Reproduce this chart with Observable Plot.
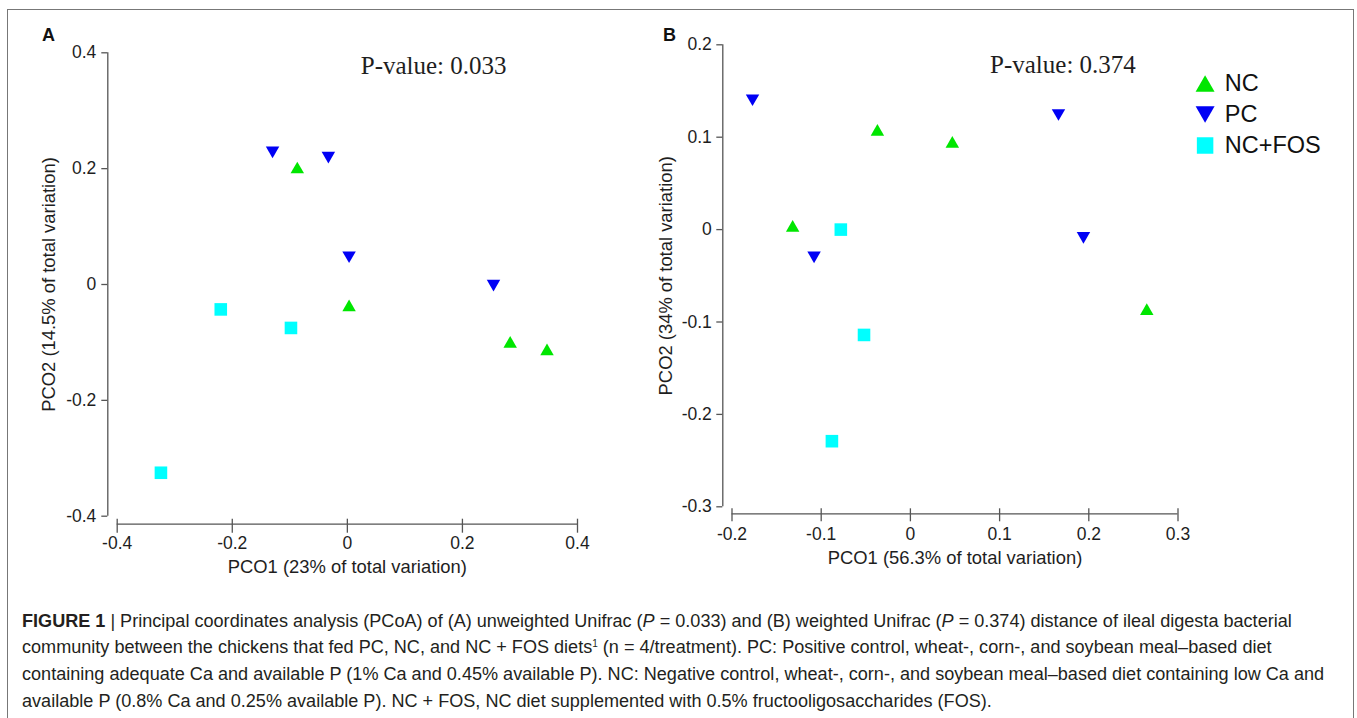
<!DOCTYPE html>
<html>
<head>
<meta charset="utf-8">
<script src="https://cdn.jsdelivr.net/npm/d3@7"></script>
<script src="https://cdn.jsdelivr.net/npm/@observablehq/plot@0.6"></script>
<style>
html, body { margin: 0; padding: 0; background: #fff; width: 1357px; height: 718px; overflow: hidden;
  font-family: "Liberation Sans", Arial, sans-serif; }
.panel { position: absolute; top: 0; }
#box { position: absolute; left: 7px; top: 9px; width: 1345px; height: 720px; border: 1.5px solid #777;
  border-bottom: none; pointer-events: none; }
#caption { position: absolute; left: 22px; top: 607.7px; color: #231f20; font-size: 16px; line-height: 26.7px; white-space: nowrap; }
#caption sup { font-size: 10px; line-height: 0; vertical-align: 6px; }
</style>
</head>
<body>
<div id="panelA" class="panel" style="left:0;width:620px"></div>
<div id="panelB" class="panel" style="left:620px;width:737px"></div>
<div id="legend" class="panel" style="left:1180px;width:177px"></div>
<div id="caption">
<div class="cl"><b>FIGURE 1</b> | Principal coordinates analysis (PCoA) of (A) unweighted Unifrac (<i>P</i> = 0.033) and (B) weighted Unifrac (<i>P</i> = 0.374) distance of ileal digesta bacterial</div>
<div class="cl">community between the chickens that fed PC, NC, and NC + FOS diets<sup>1</sup> (n = 4/treatment). PC: Positive control, wheat-, corn-, and soybean meal–based diet</div>
<div class="cl">containing adequate Ca and available P (1% Ca and 0.45% available P). NC: Negative control, wheat-, corn-, and soybean meal–based diet containing low Ca and</div>
<div class="cl">available P (0.8% Ca and 0.25% available P). NC + FOS, NC diet supplemented with 0.5% fructooligosaccharides (FOS).</div>
</div>
<div id="box"></div>
<script>
// ---------- data ----------
const groups = ["NC", "PC", "NC+FOS"];

// Panel A: unweighted Unifrac
const aGroup = ["PC", "PC", "PC", "PC", "NC", "NC", "NC", "NC", "NC+FOS", "NC+FOS", "NC+FOS"];
const aPCO1  = [-0.130, -0.033, 0.003, 0.254, -0.087, 0.003, 0.283, 0.347, -0.220, -0.098, -0.324];
const aPCO2  = [0.228, 0.219, 0.047, -0.002, 0.202, -0.036, -0.099, -0.112, -0.043, -0.075, -0.325];
const aXTicks = [-0.4, -0.2, 0, 0.2, 0.4];
const aXTickLabels = ["-0.4", "-0.2", "0", "0.2", "0.4"];
const aYTicks = [-0.4, -0.2, 0, 0.2, 0.4];
const aYTickLabels = ["-0.4", "-0.2", "0", "0.2", "0.4"];
const aXLabel = "PCO1 (23% of total variation)";
const aYLabel = "PCO2 (14.5% of total variation)";
const aPValue = "P-value: 0.033";

// Panel B: weighted Unifrac
const bGroup = ["PC", "PC", "PC", "PC", "NC", "NC", "NC", "NC", "NC+FOS", "NC+FOS", "NC+FOS"];
const bPCO1  = [-0.177, 0.166, -0.108, 0.194, -0.037, 0.047, -0.132, 0.265, -0.078, -0.052, -0.088];
const bPCO2  = [0.140, 0.124, -0.030, -0.009, 0.108, 0.095, 0.004, -0.086, 0.000, -0.114, -0.229];
const bXTicks = [-0.2, -0.1, 0, 0.1, 0.2, 0.3];
const bXTickLabels = ["-0.2", "-0.1", "0", "0.1", "0.2", "0.3"];
const bYTicks = [-0.3, -0.2, -0.1, 0, 0.1, 0.2];
const bYTickLabels = ["-0.3", "-0.2", "-0.1", "0", "0.1", "0.2"];
const bXLabel = "PCO1 (56.3% of total variation)";
const bYLabel = "PCO2 (34% of total variation)";
const bPValue = "P-value: 0.374";

// ---------- styling ----------
const sqrt3 = Math.sqrt(3);
const triUp = { draw(ctx, size) { const h = Math.sqrt(size * sqrt3), s = 2 * h / sqrt3;
  ctx.moveTo(0, -h / 2); ctx.lineTo(s / 2, h / 2); ctx.lineTo(-s / 2, h / 2); ctx.closePath(); } };
const triDown = { draw(ctx, size) { const h = Math.sqrt(size * sqrt3), s = 2 * h / sqrt3;
  ctx.moveTo(0, h / 2); ctx.lineTo(s / 2, -h / 2); ctx.lineTo(-s / 2, -h / 2); ctx.closePath(); } };
const sym = { "NC": triUp, "PC": triDown, "NC+FOS": "square" };
const col = { "NC": "#00e600", "PC": "#0000f5", "NC+FOS": "#00ffff" };
const rPlot = { "NC": 5.0, "PC": 5.0, "NC+FOS": 7.1 };
const rLegend = { "NC": 7.05, "PC": 7.05, "NC+FOS": 9.3 };
const axisColor = "#555";
const textColor = "#1e1e1e";
const svgStyle = { background: "transparent", overflow: "visible", fontFamily: "'Liberation Sans', Arial, sans-serif" };

function panel(opts) {
  const rows = opts.grp.map((g, i) => ({ group: g, pco1: opts.pco1[i], pco2: opts.pco2[i] }));
  const fmt = (ticks, labels) => d => labels[ticks.indexOf(d)];
  return Plot.plot({
    width: opts.width, height: opts.height,
    marginLeft: opts.ml, marginRight: opts.mr, marginTop: opts.mt, marginBottom: opts.mb,
    x: { domain: opts.xDomain },
    y: { domain: opts.yDomain },
    style: svgStyle,
    marks: [
      Plot.ruleX([opts.xDomain[0]], { y1: opts.yDomain[0], y2: opts.yDomain[1], dx: opts.yAxisOffset, stroke: axisColor, strokeWidth: 1.3 }),
      Plot.ruleY([opts.yDomain[0]], { x1: opts.xDomain[0], x2: opts.xDomain[1], dy: opts.xAxisOffset, stroke: axisColor, strokeWidth: 1.3 }),
      Plot.axisY({ ticks: opts.yTicks, tickFormat: fmt(opts.yTicks, opts.yTickLabels), tickSize: 6, tickPadding: opts.yPad,
        dx: opts.yAxisOffset, fontSize: 17.5, stroke: axisColor, strokeWidth: 1.3, fill: textColor, label: null }),
      Plot.axisX({ ticks: opts.xTicks, tickFormat: fmt(opts.xTicks, opts.xTickLabels), tickSize: opts.xTickSize, tickPadding: opts.xPad,
        dy: opts.xAxisOffset - 5, fontSize: 17.5, stroke: axisColor, strokeWidth: 1.3, fill: textColor, label: null }),
      Plot.text([opts.xLabel], { frameAnchor: "bottom", lineAnchor: "middle", textAnchor: "middle", dy: 51, fontSize: 18.4, fill: textColor }),
      Plot.text([opts.yLabel], { frameAnchor: "left", rotate: -90, textAnchor: "middle", lineAnchor: "middle", dx: opts.yLabelDx, fontSize: 18.4, fill: textColor }),
      Plot.text([opts.letter], { frameAnchor: "top-left", textAnchor: "middle", lineAnchor: "middle", dx: opts.letterDx, dy: opts.letterDy, fontSize: 18, fontWeight: "bold", fill: "#111" }),
      Plot.text([opts.pValue], { x: opts.pX, y: opts.pY, fontFamily: "'Liberation Serif', 'Times New Roman', serif", fontSize: 25, fill: textColor }),
      ...groups.map(g => Plot.dot(rows.filter(d => d.group === g), {
        x: "pco1", y: "pco2", symbol: sym[g], r: rPlot[g], fill: col[g], stroke: "none" }))
    ]
  });
}

document.getElementById("panelA").append(panel({
  pco1: aPCO1, pco2: aPCO2, grp: aGroup,
  xDomain: [-0.4, 0.4], yDomain: [-0.4, 0.4],
  xTicks: aXTicks, xTickLabels: aXTickLabels, yTicks: aYTicks, yTickLabels: aYTickLabels,
  xLabel: aXLabel, yLabel: aYLabel, letter: "A", pValue: aPValue, pX: 0.150, pY: 0.378,
  width: 620, height: 600, ml: 116.7, mr: 43, mt: 52.3, mb: 84.3,
  yAxisOffset: -9.4, xAxisOffset: 8, xTickSize: 14, xPad: 3.7, yPad: 5.5,
  yLabelDx: -68, letterDx: -68.7, letterDy: -17.8
}));

document.getElementById("panelB").append(panel({
  pco1: bPCO1, pco2: bPCO2, grp: bGroup,
  xDomain: [-0.2, 0.3], yDomain: [-0.3, 0.2],
  xTicks: bXTicks, xTickLabels: bXTickLabels, yTicks: bYTicks, yTickLabels: bYTickLabels,
  xLabel: bXLabel, yLabel: bYLabel, letter: "B", pValue: bPValue, pX: 0.171, pY: 0.178,
  width: 737, height: 600, ml: 111.5, mr: 179.5, mt: 44.3, mb: 93.7,
  yAxisOffset: -9.2, xAxisOffset: 7, xTickSize: 13, xPad: 6, yPad: 5,
  yLabelDx: -66, letterDx: -62.5, letterDy: -9.8
}));

// legend
document.getElementById("legend").append(Plot.plot({
  width: 177, height: 200, marginLeft: 24.6, marginRight: 10, marginTop: 83, marginBottom: 55,
  y: { type: "point", domain: groups, padding: 0, axis: null },
  style: svgStyle,
  marks: [
    ...groups.map(g => Plot.dot([g], { y: d => d, frameAnchor: "left", symbol: sym[g], r: rLegend[g], fill: col[g], stroke: "none" })),
    Plot.text(groups, { y: d => d, frameAnchor: "left", dx: 19.7, textAnchor: "start", fontSize: 23.5, fill: "#111" })
  ]
}));

// fit caption font size so that the first line spans the reference width
(function fitCaption() {
  const cap = document.getElementById("caption");
  const first = cap.querySelector(".cl");
  const range = document.createRange();
  range.selectNodeContents(first);
  const w = range.getBoundingClientRect().width;
  if (w > 0) cap.style.fontSize = (16 * 1270 / w).toFixed(2) + "px";
})();
</script>
</body>
</html>
